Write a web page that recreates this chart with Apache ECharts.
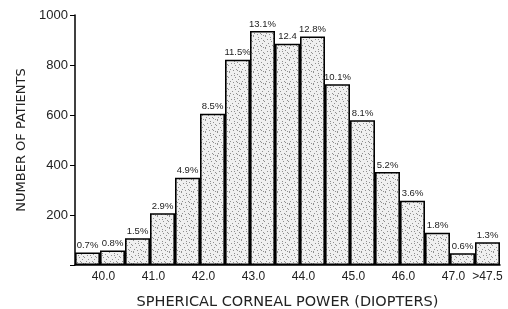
<!DOCTYPE html>
<html>
<head>
<meta charset="utf-8">
<script src="https://cdn.jsdelivr.net/npm/echarts@6/dist/echarts.min.js"></script>
<style>
  html, body { margin: 0; padding: 0; background: #fff; }
  #chart { width: 508px; height: 309px; }
</style>
</head>
<body>
<div id="chart"></div>
<script>
// categories (0.5 diopter bins), only some carry a tick label
var categories = ['', '40.0', '', '41.0', '', '42.0', '', '43.0', '', '44.0', '', '45.0', '', '46.0', '', '47.0', '>47.5'];
// number of patients per bin
var patients = [50, 58, 107, 207, 349, 605, 821, 936, 885, 914, 723, 579, 372, 257, 129, 47, 91];
// percent labels printed above the bars
var pctLabels = ['0.7%', '0.8%', '1.5%', '2.9%', '4.9%', '8.5%', '11.5%', '13.1%', '12.4', '12.8%', '10.1%', '8.1%', '5.2%', '3.6%', '1.8%', '0.6%', '1.3%'];
var yTicks = [0, 200, 400, 600, 800, 1000];

// stipple texture for the bars (fixed dot layout)
function makeStipple() {
  var c = document.createElement('canvas');
  c.width = 12; c.height = 12;
  var ctx = c.getContext('2d');
  ctx.fillStyle = '#f0f0f0';
  ctx.fillRect(0, 0, 12, 12);
  var dots = [[1,0],[6,1],[9,2],[3,3],[11,4],[0,5],[7,5],[4,7],[10,7],[2,9],[8,9],[5,10],[11,11],[1,11],[6,3],[9,10]];
  ctx.fillStyle = '#909090';
  dots.forEach(function (d) { ctx.fillRect(d[0], d[1], 1, 1); });
  return c;
}

var chart = echarts.init(document.getElementById('chart'));
chart.setOption({
  animation: false,
  grid: { left: 75, right: 8, top: 15, bottom: 44, outerBoundsMode: 'none' },
  xAxis: {
    type: 'category',
    data: categories,
    name: 'SPHERICAL CORNEAL POWER (DIOPTERS)',
    nameLocation: 'middle',
    nameGap: 30,
    nameTextStyle: { fontFamily: 'DejaVu Sans', fontSize: 14.5, color: '#222' },
    axisLine: { lineStyle: { color: '#000', width: 1.5 } },
    axisTick: { show: false },
    axisLabel: {
      interval: 0,
      margin: 6,
      fontFamily: 'Liberation Sans',
      fontSize: 12,
      color: '#222',
      formatter: function (v, i) {
        if (!v) return '';
        return i === categories.length - 1 ? v : '{s|' + v + '}';
      },
      rich: { s: { fontFamily: 'Liberation Sans', fontSize: 12, color: '#222', padding: [0, 18, 0, 0] } }
    }
  },
  yAxis: {
    type: 'value',
    min: yTicks[0],
    max: yTicks[yTicks.length - 1],
    interval: 200,
    name: 'NUMBER OF PATIENTS',
    nameLocation: 'middle',
    nameRotate: 90,
    nameGap: 47,
    nameTextStyle: { fontFamily: 'DejaVu Sans', fontSize: 13, color: '#222' },
    axisLine: { show: true, lineStyle: { color: '#000', width: 1.5 } },
    axisTick: { show: true, length: 5, lineStyle: { color: '#000' } },
    splitLine: { show: false },
    axisLabel: {
      margin: 7,
      fontFamily: 'Liberation Sans',
      fontSize: 13,
      color: '#222',
      formatter: function (v) { return v === 0 ? '' : v; }
    }
  },
  series: [{
    type: 'bar',
    data: patients,
    barCategoryGap: 0,
    itemStyle: {
      color: { image: makeStipple(), repeat: 'repeat' },
      borderColor: '#000',
      borderWidth: 1.6
    },
    label: {
      show: true,
      position: 'top',
      distance: 2,
      fontFamily: 'Liberation Sans',
      fontSize: 9.5,
      color: '#222',
      formatter: function (p) { return pctLabels[p.dataIndex]; }
    }
  }]
});
</script>
</body>
</html>
